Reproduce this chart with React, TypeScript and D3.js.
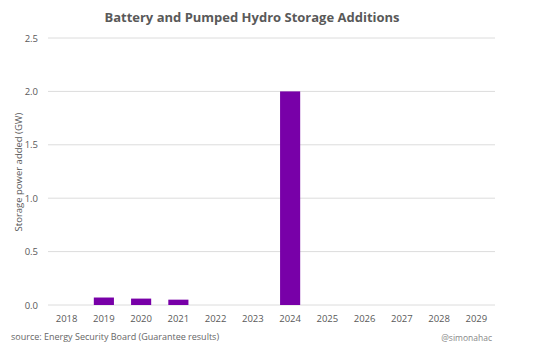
import React from "react";
import * as d3 from "d3";

const years = ["2018", "2019", "2020", "2021", "2022", "2023", "2024", "2025", "2026", "2027", "2028", "2029"];
const storageGW = [0, 0.07, 0.06, 0.05, 0, 0, 2.0, 0, 0, 0, 0, 0];
const yTicks = [0, 0.5, 1.0, 1.5, 2.0, 2.5];

const W = 538, H = 354;
const left = 48, right = 495, top = 38, bottom = 305;
const font = "'Open Sans', 'DejaVu Sans', sans-serif";

export default function App() {
  const x = d3.scaleBand().domain(years).range([left, right]).paddingInner(0.46).paddingOuter(0.23);
  const y = d3.scaleLinear().domain([0, 2.5]).range([bottom, top]);
  return (
    <svg width={W} height={H} style={{ position: "absolute", left: 0, top: 0, background: "#fff" }}>
      <text x={252} y={22} textAnchor="middle" fontFamily={font} fontWeight="bold" fontSize={13} fill="#595959">
        Battery and Pumped Hydro Storage Additions
      </text>
      {yTicks.map((t) => (
        <g key={t}>
          <line x1={left} x2={right} y1={y(t)} y2={y(t)} stroke="#dcdcdc" strokeWidth={1} />
          <text x={38} y={y(t) + 3.5} textAnchor="end" fontFamily={font} fontSize={9.5} fill="#595959">
            {t.toFixed(1)}
          </text>
        </g>
      ))}
      {years.map((yr, i) => (
        <g key={yr}>
          {storageGW[i] > 0 && (
            <rect x={x(yr)} y={y(storageGW[i])} width={x.bandwidth()} height={y(0) - y(storageGW[i])} fill="#7800a8" />
          )}
          <text x={(x(yr) as number) + x.bandwidth() / 2} y={322} textAnchor="middle" fontFamily={font} fontSize={9.5} fill="#595959">
            {yr}
          </text>
        </g>
      ))}
      <text transform={`translate(22,172) rotate(-90)`} textAnchor="middle" fontFamily={font} fontSize={9.5} fill="#595959">
        Storage power added (GW)
      </text>
      <text x={11} y={340} fontFamily={font} fontSize={9} fill="#666">
        source: Energy Security Board (Guarantee results)
      </text>
      <text x={492} y={341} textAnchor="end" fontFamily={font} fontSize={8.5} fill="#888">
        @simonahac
      </text>
    </svg>
  );
}
